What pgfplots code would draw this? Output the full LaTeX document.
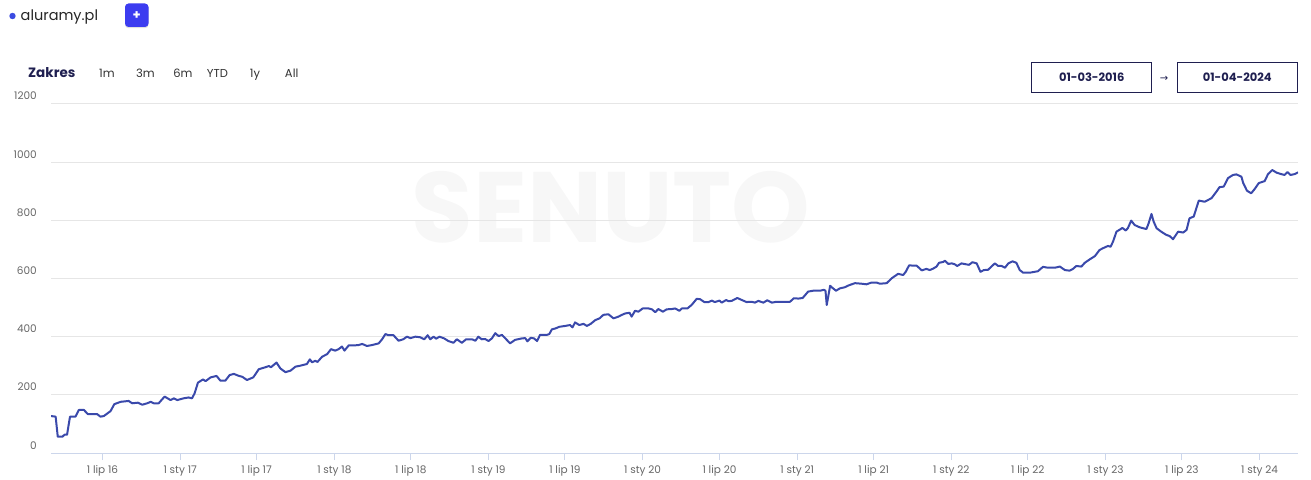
\documentclass[border=0pt]{standalone}
\usepackage{fontspec}
\setmainfont{Poppins}
\newfontfamily\dejavu{DejaVu Sans}
\usepackage{pgfplots}
\pgfplotsset{compat=1.18}
\usepackage{pgfplotstable}

\definecolor{linec}{RGB}{58,73,171}
\definecolor{gridc}{RGB}{230,230,230}
\definecolor{axisc}{RGB}{204,214,235}
\definecolor{tickc}{RGB}{102,102,102}
\definecolor{navy}{RGB}{31,31,80}
\definecolor{btnc}{RGB}{60,60,240}
\definecolor{dotc}{RGB}{59,75,225}
\definecolor{wmark}{RGB}{247,247,247}

% x = days since 2016-01-01, y = value
\pgfplotstableread{
d v
60 127
71 125
76 56
87 56
92 63
98 63
105 125
118 125
126 148
138 148
147 134
169 134
177 125
185 127
201 144
210 168
225 176
244 179
252 171
266 173
276 166
288 171
296 176
303 171
315 171
329 194
343 182
351 188
359 182
374 188
386 191
394 188
400 205
408 242
420 253
426 247
438 260
452 265
461 249
473 249
483 268
493 272
505 265
513 262
524 251
539 260
552 288
568 295
576 299
581 295
594 311
603 291
615 278
627 283
639 297
650 300
658 303
666 306
673 322
678 312
686 317
691 313
702 331
714 340
723 357
733 352
741 357
749 366
755 352
765 370
777 370
788 371
797 375
808 368
820 371
836 377
844 391
852 409
859 405
871 405
883 386
894 391
903 400
911 395
923 400
934 398
944 391
952 405
958 391
966 400
972 393
980 400
991 394
1001 385
1013 379
1021 391
1033 379
1043 391
1057 391
1065 386
1072 400
1080 391
1088 392
1096 385
1104 394
1112 412
1120 402
1128 406
1136 394
1147 377
1159 389
1175 394
1183 395
1188 384
1196 396
1204 394
1211 385
1218 406
1234 406
1240 409
1246 425
1254 428
1264 434
1278 437
1289 440
1295 432
1301 449
1311 440
1321 444
1329 437
1338 444
1349 457
1359 463
1368 475
1380 477
1392 463
1404 469
1412 475
1420 480
1430 482
1435 469
1443 489
1451 486
1461 497
1475 497
1483 494
1491 484
1498 495
1509 486
1518 494
1530 495
1538 497
1548 489
1554 497
1567 497
1577 509
1589 530
1597 529
1607 519
1617 519
1625 524
1632 519
1643 524
1648 517
1659 526
1664 522
1672 523
1685 533
1696 526
1707 519
1719 520
1727 517
1735 523
1747 517
1756 525
1767 517
1778 520
1794 520
1810 520
1819 532
1830 531
1840 533
1853 555
1865 558
1881 558
1890 561
1894 558
1897 509
1905 575
1912 566
1919 558
1928 566
1940 570
1950 577
1964 584
1980 582
1991 580
2003 586
2015 586
2023 582
2039 584
2051 601
2066 616
2078 612
2084 623
2092 645
2110 644
2122 628
2133 633
2141 629
2149 634
2157 641
2163 654
2173 657
2177 661
2185 650
2193 652
2200 649
2206 643
2216 652
2226 649
2234 647
2242 656
2252 652
2261 623
2269 629
2279 630
2287 641
2295 652
2303 643
2311 643
2319 637
2327 652
2337 659
2346 654
2354 629
2362 620
2378 620
2397 625
2409 640
2421 637
2437 637
2449 641
2461 629
2472 627
2480 633
2488 643
2500 641
2508 654
2520 666
2532 677
2543 698
2551 704
2563 712
2569 709
2575 727
2583 761
2592 769
2597 774
2605 765
2610 773
2618 799
2626 784
2638 776
2654 770
2659 789
2666 822
2671 796
2678 773
2689 761
2701 750
2709 746
2717 735
2729 761
2741 758
2749 767
2756 807
2766 813
2778 868
2792 864
2808 876
2820 899
2827 914
2837 916
2847 945
2859 956
2867 958
2879 950
2883 929
2892 902
2902 893
2910 907
2920 928
2934 935
2942 959
2952 973
2962 964
2973 959
2981 956
2988 966
2995 956
3005 959
3013 965
}\datatable

\begin{document}
\begin{tikzpicture}[x=1pt,y=1pt]
% watermark (behind the chart)
\node[anchor=base, inner sep=0pt, text=wmark, font=\bfseries\fontsize{100}{100}\selectfont] at (611,236) {SENUTO};

\begin{axis}[
  at={(51pt,26pt)}, anchor=south west,
  scale only axis, width=1247pt, height=349pt,
  xmin=60, xmax=3013, ymin=0, ymax=1200,
  axis x line*=bottom, axis y line*=left,
  x axis line style={-, draw=axisc, line width=1pt},
  y axis line style={draw=none},
  xtick={182,366,547,731,912,1096,1277,1461,1643,1827,2008,2192,2373,2557,2738,2922},
  xticklabels={1 lip 16,1 sty 17,1 lip 17,1 sty 18,1 lip 18,1 sty 19,1 lip 19,1 sty 20,1 lip 20,1 sty 21,1 lip 21,1 sty 22,1 lip 22,1 sty 23,1 lip 23,1 sty 24},
  ytick={0,200,400,600,800,1000,1200},
  ymajorgrids, grid style={draw=gridc, line width=1pt},
  tick align=outside, major tick length=7pt,
  xtick style={draw=axisc, line width=1pt},
  ytick style={draw=none},
  ticklabel style={font=\fontsize{10.5}{12}\selectfont, text=tickc},
  /pgf/number format/assume math mode=true,
  /pgf/number format/1000 sep={},
  yticklabel style={anchor=base east, inner sep=0pt, xshift=-7pt, yshift=4pt},
  xticklabel style={anchor=base, inner sep=0pt, yshift=-13pt},
]
\addplot[linec, line width=2pt, line join=round, mark=none] table[x=d, y=v] {\datatable};
\end{axis}

\pgfresetboundingbox
\path[use as bounding box] (0,0) rectangle (1311,479);

% header
\fill[dotc] (12.5,463) circle (3.2);
\node[anchor=base west, inner sep=0pt, text=black!85, font=\fontsize{14.5}{16}\selectfont] at (20.5,458.5) {aluramy.pl};
\fill[black!12, rounded corners=3.5] (125,450.8) rectangle (148.5,475);
\fill[btnc, rounded corners=3.5] (125,452) rectangle (148.5,475.5);
\node[text=white, font=\bfseries\fontsize{13}{13}\selectfont, inner sep=0pt] at (136.8,463.8) {+};

\node[anchor=base west, inner sep=0pt, text=navy, font=\bfseries\fontsize{13.5}{15}\selectfont] at (28,401.7) {Zakres};
\begin{scope}[every node/.style={anchor=base, inner sep=0pt, text=black!80, font=\fontsize{11.5}{13}\selectfont}]
\node at (107,401.3) {1m};
\node at (145.5,401.3) {3m};
\node at (183,401.3) {6m};
\node at (217.5,401.3) {YTD};
\node at (255,401.3) {1y};
\node at (291.7,401.3) {All};
\end{scope}

% date boxes
\draw[navy, line width=1.2pt] (1031.7,386.7) rectangle (1151.7,416.7);
\draw[navy, line width=1.2pt] (1177.3,386.7) rectangle (1297.3,416.7);
\node[anchor=base, inner sep=0pt, text=navy, font=\bfseries\fontsize{11.5}{13}\selectfont] at (1091.7,397.3) {01-03-2016};
\node[anchor=base, inner sep=0pt, text=navy, font=\bfseries\fontsize{11.5}{13}\selectfont] at (1237.3,397.3) {01-04-2024};
\node[inner sep=0pt, text=navy, font=\dejavu\fontsize{10}{10}\selectfont] at (1164,400) {→};
\end{tikzpicture}
\end{document}
